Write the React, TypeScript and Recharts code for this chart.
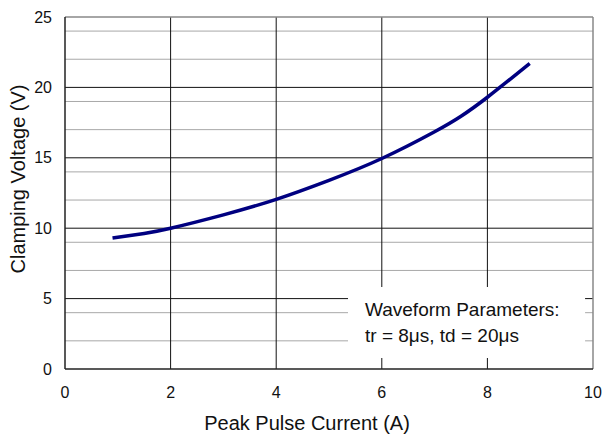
import React from 'react';
import { LineChart, Line, XAxis, YAxis, CartesianGrid, ReferenceArea, ReferenceLine } from 'recharts';

const currentA = [0.9, 1.5, 2, 3, 4, 5, 6, 7, 7.5, 8, 8.8];
const clampV = [9.3, 9.63, 10.0, 10.95, 12.05, 13.4, 14.95, 16.85, 17.95, 19.3, 21.7];
const xTicks = [0, 2, 4, 6, 8, 10];
const yTicks = [0, 5, 10, 15, 20, 25];
const yMinor = [1, 2, 3, 4, 6, 7, 8, 9, 11, 12, 13, 14, 16, 17, 18, 19, 21, 22, 23, 24];
const yMajor = [5, 10, 15, 20];
const xMajor = [2, 4, 6, 8];
const noteLines = ['Waveform Parameters:', 'tr = 8\u03bcs, td = 20\u03bcs'];

const data = currentA.map((x, i) => ({ x, v: clampV[i] }));
const FONT = '"Liberation Sans", Arial, sans-serif';

const NoteLabel = (props: any) => {
  const vb = props.viewBox || {};
  const x0 = (vb.x ?? 0) + 17;
  const y0 = (vb.y ?? 0) + 29;
  return (
    <g>
      {noteLines.map((t, i) => (
        <text key={i} x={x0} y={y0 + i * 26} fontSize={19} fontFamily={FONT} fill="#111">
          {t}
        </text>
      ))}
    </g>
  );
};

export default function App() {
  return (
    <div style={{ position: 'absolute', left: 0, top: 0, width: 606, height: 436, background: '#fff' }}>
      <LineChart width={606} height={436} data={data} margin={{ top: 17, right: 13, bottom: 0, left: 0 }}>
        <CartesianGrid horizontalValues={yMinor} vertical={false} stroke="#a8a8a8" strokeWidth={1} />
        <CartesianGrid horizontalValues={yMajor} verticalValues={xMajor} stroke="#111" strokeWidth={1} />
        <XAxis
          dataKey="x"
          type="number"
          domain={[0, 10]}
          ticks={xTicks}
          height={67}
          tickSize={0}
          tickMargin={18}
          axisLine={{ stroke: '#222', strokeWidth: 1.5 }}
          tick={{ fill: '#111', fontSize: 16, fontFamily: FONT }}
        />
        <YAxis
          type="number"
          domain={[0, 25]}
          ticks={yTicks}
          width={65}
          tickSize={0}
          tickMargin={13}
          axisLine={{ stroke: '#222', strokeWidth: 1.5 }}
          tick={{ fill: '#111', fontSize: 16, fontFamily: FONT }}
        />
        <ReferenceLine y={25} stroke="#888" strokeWidth={1.5} />
        <ReferenceLine x={10} stroke="#888" strokeWidth={1.5} />
        <ReferenceArea
          x1={5.36}
          x2={9.85}
          y1={0.78}
          y2={5.82}
          fill="#fff"
          fillOpacity={1}
          stroke="none"
          label={<NoteLabel />}
        />
        <Line
          dataKey="v"
          type="natural"
          stroke="#000080"
          strokeWidth={3.5}
          dot={false}
          isAnimationActive={false}
        />
      </LineChart>
      <svg width={606} height={436} style={{ position: 'absolute', left: 0, top: 0, pointerEvents: 'none' }}>
        <text x={307} y={430} textAnchor="middle" fontSize={20} fontFamily={FONT} fill="#111">
          Peak Pulse Current (A)
        </text>
        <text
          x={25}
          y={179}
          textAnchor="middle"
          fontSize={20}
          fontFamily={FONT}
          fill="#111"
          transform="rotate(-90 25 179)"
        >
          Clamping Voltage (V)
        </text>
      </svg>
    </div>
  );
}
